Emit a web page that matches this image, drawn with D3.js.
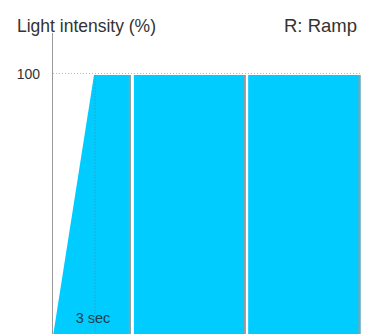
<!DOCTYPE html>
<html>
<head>
<meta charset="utf-8">
<script src="https://cdn.jsdelivr.net/npm/d3@7"></script>
<style>
  body { margin: 0; background: #fff; }
  svg { display: block; font-family: "Liberation Sans", Arial, sans-serif; }
</style>
</head>
<body>
<div id="chart"></div>
<script>
// light pulses: start (sec), time the ramp reaches the level, end, level (%)
var segStart   = [0, 5.92, 14.28];
var segRampEnd = [3, 5.92, 14.28];
var segEnd     = [5.7, 14.1, 22.5];
var segLevel   = [100, 100, 100];

var yTicks = [100];
var markTime = 3;          // dotted marker, labelled "3 sec"
var markLabel = "3 sec";

function chart() {
  var w = 381;
  var h = 334;

  var x = d3.scaleLinear()
            .domain([0, 22.5])
            .range([53, 360.5]);

  var y = d3.scaleLinear()
            .domain([0, 100])
            .range([336, 73.5]);

  var svg = d3.select("#chart")
              .append("svg")
              .attr("width", w)
              .attr("height", h);

  // dotted line at 100 %
  svg.selectAll("line.grid")
     .data(yTicks)
     .enter()
     .append("line")
     .attr("class", "grid")
     .attr("x1", 53)
     .attr("x2", 361)
     .attr("y1", function(d) { return y(d); })
     .attr("y2", function(d) { return y(d); })
     .attr("stroke", "#b8b8b8")
     .attr("stroke-width", 1)
     .attr("stroke-dasharray", "1,2");

  var segs = segStart.map(function(s, i) {
    return { start: s, rampEnd: segRampEnd[i], end: segEnd[i], level: segLevel[i] };
  });

  // blue blocks
  svg.selectAll("path.seg")
     .data(segs)
     .enter()
     .append("path")
     .attr("class", "seg")
     .attr("d", function(d) {
       var top = y(d.level) + 1.5;
       return "M" + x(d.start) + "," + y(0) +
              "L" + x(d.rampEnd) + "," + top +
              "L" + x(d.end) + "," + top +
              "L" + x(d.end) + "," + y(0) + "Z";
     })
     .attr("fill", "#00ccff");

  // grey right edge of each block
  svg.selectAll("line.edge")
     .data(segs)
     .enter()
     .append("line")
     .attr("class", "edge")
     .attr("x1", function(d) { return x(d.end) - 1; })
     .attr("x2", function(d) { return x(d.end) - 1; })
     .attr("y1", function(d) { return y(d.level) + 1.5; })
     .attr("y2", y(0))
     .attr("stroke", "#9a9a9a")
     .attr("stroke-width", 2);

  // 3 sec marker
  svg.append("line")
     .attr("x1", x(markTime) + 1)
     .attr("x2", x(markTime) + 1)
     .attr("y1", y(100) + 2)
     .attr("y2", h)
     .attr("stroke", "#3d8fa8")
     .attr("stroke-width", 1)
     .attr("stroke-dasharray", "1,2");

  svg.append("text")
     .attr("x", x(markTime) - 1)
     .attr("y", 323)
     .attr("text-anchor", "middle")
     .attr("font-size", 14.5)
     .attr("fill", "#1d3f4c")
     .text(markLabel);

  // y axis line
  svg.append("line")
     .attr("x1", 52.5)
     .attr("x2", 52.5)
     .attr("y1", 33)
     .attr("y2", h)
     .attr("stroke", "#999")
     .attr("stroke-width", 1);

  // tick label
  svg.selectAll("text.tick")
     .data(yTicks)
     .enter()
     .append("text")
     .attr("class", "tick")
     .attr("x", 40)
     .attr("y", function(d) { return y(d) + 5; })
     .attr("text-anchor", "end")
     .attr("font-size", 14)
     .attr("fill", "#333")
     .text(function(d) { return d; });

  // titles
  svg.append("text")
     .attr("x", 17)
     .attr("y", 31.5)
     .attr("font-size", 18.5)
     .attr("fill", "#333")
     .attr("textLength", 139)
     .attr("lengthAdjust", "spacingAndGlyphs")
     .text("Light intensity (%)");

  svg.append("text")
     .attr("x", 357)
     .attr("y", 31.5)
     .attr("text-anchor", "end")
     .attr("font-size", 18.5)
     .attr("fill", "#333")
     .text("R: Ramp");
}

window.onload = function() {
  chart();
};
</script>
</body>
</html>
